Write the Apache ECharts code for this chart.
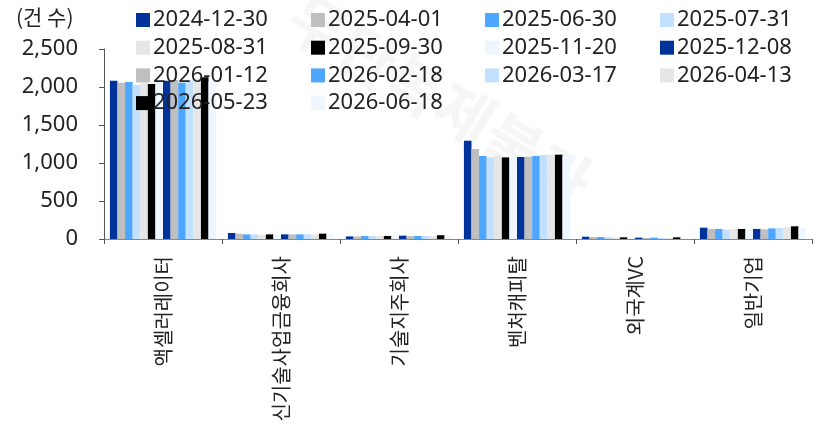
<!DOCTYPE html>
<html><head><meta charset="utf-8">
<script src="https://cdn.jsdelivr.net/npm/echarts@6/dist/echarts.min.js"></script>
<style>html,body{margin:0;padding:0;background:#fff}#c{width:819px;height:431px}</style>
</head><body><div id="c"></div>
<script>
const categories = ['액셀러레이터','신기술사업금융회사','기술지주회사','벤처캐피탈','외국계VC','일반기업'];
const seriesNames = ['2024-12-30','2025-04-01','2025-06-30','2025-07-31','2025-08-31','2025-09-30','2025-11-20','2025-12-08','2026-01-12','2026-02-18','2026-03-17','2026-04-13','2026-05-23','2026-06-18'];
const colors = ['#003399','#bfbfbf','#4da6ff','#c2e0ff','#e6e6e6','#000000','#eef6ff','#003399','#bfbfbf','#4da6ff','#c2e0ff','#e6e6e6','#000000','#eef6ff'];
const s20241230 = [2083, 79, 34, 1294, 30, 149];
const s20250401 = [2057, 70, 34, 1184, 26, 132];
const s20250630 = [2066, 61, 40, 1092, 26, 132];
const s20250731 = [2030, 61, 40, 1074, 26, 123];
const s20250831 = [2057, 53, 40, 1096, 18, 132];
const s20250930 = [2040, 61, 40, 1074, 22, 132];
const s20251120 = [2075, 53, 34, 1080, 18, 123];
const s20251208 = [2083, 61, 44, 1079, 18, 132];
const s20260112 = [2092, 61, 40, 1083, 14, 127];
const s20260218 = [2057, 61, 40, 1092, 18, 140];
const s20260317 = [2090, 61, 40, 1105, 14, 145];
const s20260413 = [2114, 61, 40, 1110, 14, 158];
const s20260523 = [2127, 70, 50, 1110, 22, 167];
const s20260618 = [2066, 61, 34, 1096, 12, 149];
const yTicks = [0, 500, 1000, 1500, 2000, 2500];
const allValues = [s20241230,s20250401,s20250630,s20250731,s20250831,s20250930,s20251120,s20251208,s20260112,s20260218,s20260317,s20260413,s20260523,s20260618];

const FONT = '"Noto Sans", "Noto Sans CJK KR", sans-serif';
const KFONT = '"Noto Sans CJK KR", sans-serif';
const series = seriesNames.map((n,i)=>({
  name:n, type:'bar', data:allValues[i], barGap:'0%', barCategoryGap:'10%',
  itemStyle:{color:colors[i]}, z:2
}));
const colGroups = [[0,4,8,12],[1,5,9,13],[2,6,10],[3,7,11]];
const colLeft = [136, 311, 485, 660];
const legends = colGroups.map((g,k)=>({
  orient:'vertical', left:colLeft[k], top:9, itemGap:5.7, itemWidth:14, itemHeight:14, icon:'rect',
  selectedMode:false, padding:0,
  data:g.map(i=>seriesNames[i]),
  textStyle:{fontFamily:FONT, fontSize:22, color:'#222', padding:[0,0,0,-2], lineHeight:20},
  z:10
}));
const chart = echarts.init(document.getElementById('c'));
chart.setOption({
  animation:false,
  color:colors,
  graphic:[
    {type:'text', left:16, top:7, style:{text:'(건 수)', font:'21px "Noto Sans CJK KR"', fill:'#222'}},
    {type:'text', x:440, y:100, rotation:-0.55, z:-1, style:{text:'무단복제불가', font:'bold 62px "Noto Sans CJK KR"', fill:'#f6f6f6', align:'center', verticalAlign:'middle'}}
  ],
  legend:legends,
  grid:{left:104, right:7, top:49, bottom:192, containLabel:false},
  xAxis:{type:'category', data:categories,
    axisLine:{lineStyle:{color:'#888'}},
    axisTick:{show:true, length:5, lineStyle:{color:'#555'}},
    axisLabel:{rotate:90, fontFamily:KFONT, fontSize:20, color:'#222', margin:17, interval:0}
  },
  yAxis:{type:'value', min:0, max:2500, interval:500,
    axisLine:{show:true, lineStyle:{color:'#555'}},
    axisTick:{show:true, length:5, lineStyle:{color:'#555'}},
    splitLine:{show:false},
    axisLabel:{fontFamily:FONT, fontSize:22, color:'#222', margin:26,
      formatter:v=>v.toLocaleString('en-US')}
  },
  series:series
});
</script></body></html>
